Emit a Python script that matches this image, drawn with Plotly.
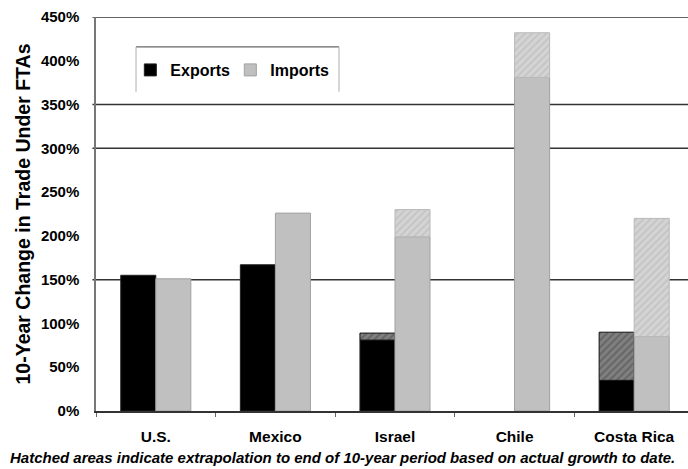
import plotly.graph_objects as go

countries = ["U.S.", "Mexico", "Israel", "Chile", "Costa Rica"]
exports_actual = [155, 167, 81, None, 35]
exports_extrap = [None, None, 8, None, 55]
imports_actual = [151, 226, 199, 381, 85]
imports_extrap = [None, None, 31, 51, 135]
grid_levels = [150, 300, 350, 450]

FONT = "Arial, Liberation Sans, sans-serif"

fig = go.Figure()
fig.add_trace(go.Bar(
    x=countries, y=exports_actual, name="Exports", offsetgroup="exp",
    marker=dict(color="#000000", line=dict(color="#222222", width=1)),
))
fig.add_trace(go.Bar(
    x=countries, y=exports_extrap, base=exports_actual, name="Exports (extrapolated)",
    offsetgroup="exp", showlegend=False,
    marker=dict(color="#707070", line=dict(color="#111111", width=1),
                pattern=dict(shape="/", fgcolor="#4a4a4a", bgcolor="#808080", size=5, solidity=0.4)),
))
fig.add_trace(go.Bar(
    x=countries, y=imports_actual, name="Imports", offsetgroup="imp",
    marker=dict(color="#c0c0c0", line=dict(color="#a0a0a0", width=1)),
))
fig.add_trace(go.Bar(
    x=countries, y=imports_extrap, base=imports_actual, name="Imports (extrapolated)",
    offsetgroup="imp", showlegend=False,
    marker=dict(color="#d0d0d0", line=dict(color="#b8b8b8", width=1),
                pattern=dict(shape="/", fgcolor="#b4b4b4", bgcolor="#d4d4d4", size=5, solidity=0.4)),
))

shapes = []
for g in grid_levels:
    shapes.append(dict(type="line", xref="paper", yref="y", x0=-0.006, x1=1, y0=g, y1=g,
                       line=dict(color="#333333", width=1.5), layer="below"))
# legend frame (top dark, sides light, open bottom)
shapes += [
    dict(type="line", xref="paper", yref="paper", x0=0.0676, x1=0.4105, y0=0.924, y1=0.924,
         line=dict(color="#666666", width=1.2)),
    dict(type="line", xref="paper", yref="paper", x0=0.0676, x1=0.0676, y0=0.924, y1=0.81,
         line=dict(color="#bbbbbb", width=1.2)),
    dict(type="line", xref="paper", yref="paper", x0=0.4105, x1=0.4105, y0=0.924, y1=0.81,
         line=dict(color="#bbbbbb", width=1.2)),
]

fig.update_layout(
    width=688, height=469,
    margin=dict(l=96, r=0, t=17, b=58),
    paper_bgcolor="white", plot_bgcolor="white",
    barmode="group", bargap=0.414, bargroupgap=0,
    font=dict(family=FONT, color="#000000"),
    shapes=shapes,
    legend=dict(
        orientation="h", x=0.058, y=0.8655, xanchor="left", yanchor="middle",
        bgcolor="rgba(0,0,0,0)", borderwidth=0,
        font=dict(size=16, family=FONT, color="#000000", weight="bold"),
        itemwidth=30, entrywidthmode="pixels", entrywidth=55,
    ),
    xaxis=dict(
        range=[-0.5, 4.45], showline=True, linecolor="#333333", linewidth=1.5,
        ticks="outside", tickson="boundaries", ticklen=4, tickcolor="#666666",
        ticklabelstandoff=11,
        tickfont=dict(size=15.5, family=FONT, color="#000000", weight="bold"),
        showgrid=False, zeroline=False,
    ),
    yaxis=dict(
        range=[0, 450], dtick=50, ticksuffix="%",
        showline=True, linecolor="#777777", linewidth=1.5,
        showgrid=False, zeroline=False, ticks="",
        ticklabelstandoff=12,
        tickfont=dict(size=15, family=FONT, color="#000000", weight="bold"),
        title=dict(text="10-Year Change in Trade Under FTAs", standoff=5,
                   font=dict(size=19.5, family=FONT, color="#000000", weight="bold")),
    ),
    annotations=[dict(
        text="Hatched areas indicate extrapolation to end of 10-year period based on actual growth to date.",
        xref="paper", yref="paper", x=-0.1486, y=-0.119, xanchor="left", yanchor="middle",
        showarrow=False, font=dict(size=15, family=FONT, color="#000000", style="italic", weight="bold"),
    )],
)

fig.write_html("out.html")
